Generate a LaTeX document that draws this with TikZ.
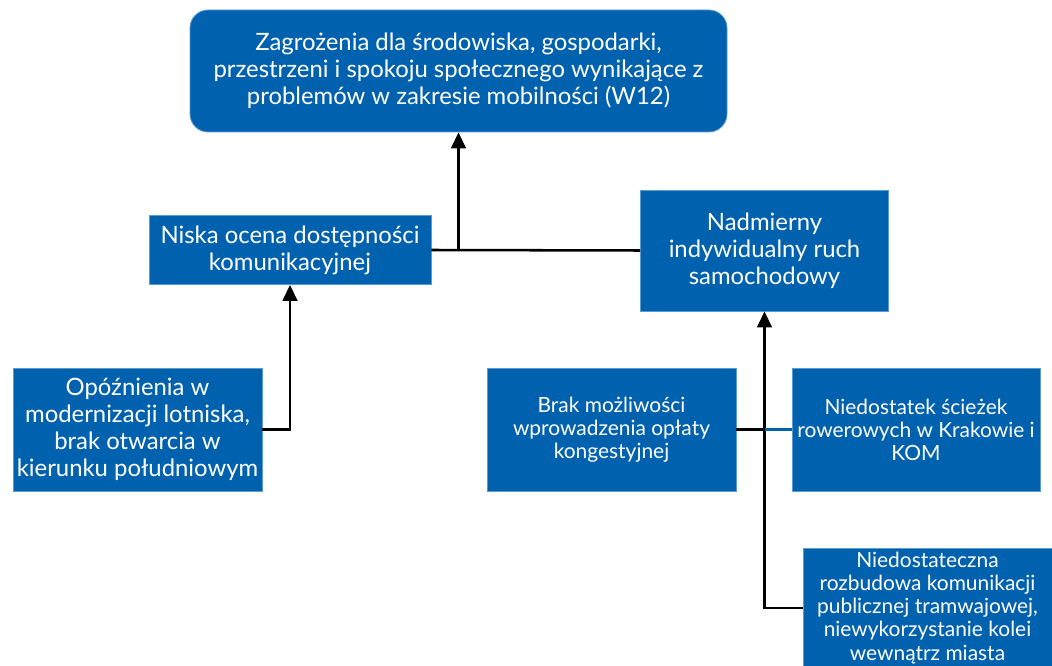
\documentclass[tikz,border=0pt]{standalone}
\usepackage{fontspec}
\setmainfont{Lato}
\usetikzlibrary{arrows.meta}
\usetikzlibrary{positioning}
\definecolor{boxblue}{HTML}{0062AE}
\definecolor{boxedge}{HTML}{5C9AD2}
\newdimen\px \px=0.75pt
\tikzset{
  box/.style={fill=boxblue, draw=boxedge, line width=0.6pt, text=white, align=center, inner sep=0pt},
  bigtext/.style={font=\fontsize{17.9}{20.2}\selectfont},
  smalltext/.style={font=\fontsize{15.7}{17.3}\selectfont},
  link/.style={line width=1.9pt, black},
  arr/.style={link, -{Triangle[length=12pt,width=11pt]}}
}
\begin{document}
\begin{tikzpicture}[line cap=butt,line join=miter,x=0.75pt,y=-0.75pt]
\useasboundingbox (0,0) rectangle (1052,666);
\node [box, bigtext, rounded corners=18\px, minimum width=537\px, minimum height=122\px] (top) at (458.5,71) {Zagrożenia dla środowiska, gospodarki,\\przestrzeni i spokoju społecznego wynikające z\\problemów w zakresie mobilności (W12)};
\node [box, bigtext, minimum width=282\px, minimum height=69\px] (niska) at (290,250) {Niska ocena dostępności\\komunikacyjnej};
\node [box, bigtext, minimum width=248\px, minimum height=121\px] (nadm) at (764.5,250.5) {Nadmierny\\indywidualny ruch\\samochodowy};
\node [box, bigtext, minimum width=249\px, minimum height=123\px] (opoz) at (137.5,429.5) {Opóźnienia w\\modernizacji lotniska,\\brak otwarcia w\\kierunku południowym};
\node [box, smalltext, minimum width=249\px, minimum height=123\px] (brak) at (611.5,429.5) {Brak możliwości\\wprowadzenia opłaty\\kongestyjnej};
\node [box, smalltext, minimum width=248\px, minimum height=123\px] (rower) at (916,429.5) {Niedostatek ścieżek\\rowerowych w Krakowie i\\KOM};
\node [box, smalltext, minimum width=249\px, minimum height=120\px] (tram) at (927.5,608) {Niedostateczna\\rozbudowa komunikacji\\publicznej tramwajowej,\\niewykorzystanie kolei\\wewnątrz miasta};
% connectors
\coordinate (join) at (niska.east -| top.south);
\draw [link] (niska.east) -- (nadm.west);
\draw [arr] (join) -- (top.south);
\draw [arr] (opoz.east) -| (niska.south);
\draw [arr] (tram.west) -| (nadm.south);
\coordinate (cross) at (brak.east -| nadm.south);
\draw [link] (brak.east) -- (cross);
\draw [line width=1.9pt, boxblue] (cross) -- (rower.west);
\end{tikzpicture}
\end{document}
